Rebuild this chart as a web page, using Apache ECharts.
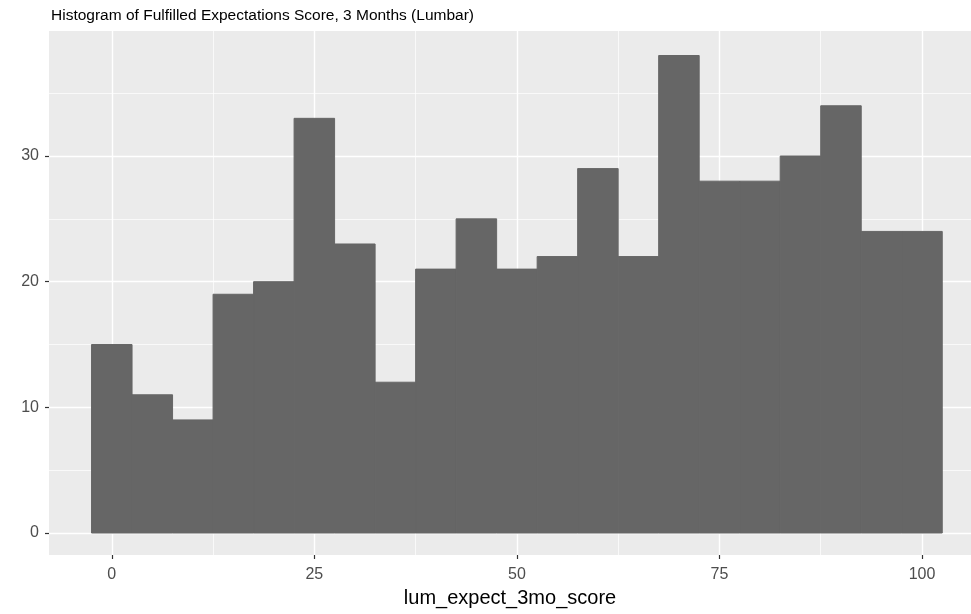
<!DOCTYPE html>
<html>
<head>
<meta charset="utf-8">
<script src="https://cdn.jsdelivr.net/npm/echarts@6/dist/echarts.min.js"></script>
<style>
  html, body { margin: 0; padding: 0; background: #ffffff; }
  #chart { width: 971px; height: 614px; }
</style>
</head>
<body>
<div id="chart"></div>
<script>
// Histogram bins: width 5, centred on 0, 5, ..., 100
const binWidth = 5;
const binCenters = [0, 5, 10, 15, 20, 25, 30, 35, 40, 45, 50, 55, 60, 65, 70, 75, 80, 85, 90, 95, 100];
const counts = [15, 11, 9, 19, 20, 33, 23, 12, 21, 25, 21, 22, 29, 22, 38, 28, 28, 30, 34, 24, 24];

// Axis breaks
const xMajor = [0, 25, 50, 75, 100];
const xMinor = [12.5, 37.5, 62.5, 87.5];
const yMajor = [0, 10, 20, 30];
const yMinor = [5, 15, 25, 35];

const titleText = 'Histogram of Fulfilled Expectations Score, 3 Months (Lumbar)';
const xTitle = 'lum_expect_3mo_score';

const FONT = '"Liberation Sans", Arial, sans-serif';

const binData = binCenters.map((c, i) => [c - binWidth / 2, c + binWidth / 2, counts[i]]);

const gridLines = [];
xMinor.forEach(v => gridLines.push({ xAxis: v, lineStyle: { width: 0.7 } }));
yMinor.forEach(v => gridLines.push({ yAxis: v, lineStyle: { width: 0.7 } }));
xMajor.forEach(v => gridLines.push({ xAxis: v, lineStyle: { width: 1.4 } }));
yMajor.forEach(v => gridLines.push({ yAxis: v, lineStyle: { width: 1.4 } }));

const chart = echarts.init(document.getElementById('chart'), null, { renderer: 'canvas' });

chart.setOption({
  animation: false,
  backgroundColor: '#ffffff',
  title: {
    text: titleText,
    left: 46,
    top: 3,
    textStyle: { fontFamily: FONT, fontSize: 15.5, fontWeight: 'normal', color: '#000000' }
  },
  grid: {
    left: 49, right: 0, top: 31, bottom: 59,
    show: true, backgroundColor: '#EBEBEB', borderWidth: 0
  },
  xAxis: {
    type: 'value',
    min: -7.75, max: 106.05,
    name: xTitle,
    nameLocation: 'middle',
    nameGap: 33,
    nameTextStyle: { fontFamily: FONT, fontSize: 20, color: '#000000' },
    axisLine: { show: true, onZero: false, lineStyle: { color: 'rgba(0,0,0,0)' } },
    splitLine: { show: false },
    axisTick: { show: true, inside: false, customValues: xMajor, length: 4, lineStyle: { color: '#333333', width: 1.2 } },
    axisLabel: { customValues: xMajor, margin: 12, fontFamily: FONT, fontSize: 16, color: '#4D4D4D' }
  },
  yAxis: {
    type: 'value',
    min: -1.75, max: 39.95,
    axisLine: { show: true, onZero: false, lineStyle: { color: 'rgba(0,0,0,0)' } },
    splitLine: { show: false },
    axisTick: { show: true, inside: false, customValues: yMajor, length: 4, lineStyle: { color: '#333333', width: 1.2 } },
    axisLabel: { customValues: yMajor, margin: 10, fontFamily: FONT, fontSize: 16, color: '#4D4D4D' }
  },
  series: [
    {
      // panel grid lines
      type: 'line',
      data: [],
      z: 1,
      silent: true,
      markLine: {
        silent: true,
        symbol: 'none',
        animation: false,
        label: { show: false },
        lineStyle: { color: '#ffffff', type: 'solid' },
        data: gridLines
      }
    },
    {
      type: 'custom',
      z: 5,
      data: binData,
      encode: { x: [0, 1], y: 2 },
      renderItem: function (params, api) {
        const p0 = api.coord([api.value(0), api.value(2)]);
        const p1 = api.coord([api.value(1), 0]);
        return {
          type: 'rect',
          shape: { x: p0[0], y: p0[1], width: p1[0] - p0[0], height: p1[1] - p0[1] },
          style: { fill: '#666666', stroke: '#666666', lineWidth: 1 }
        };
      }
    }
  ]
});
</script>
</body>
</html>
